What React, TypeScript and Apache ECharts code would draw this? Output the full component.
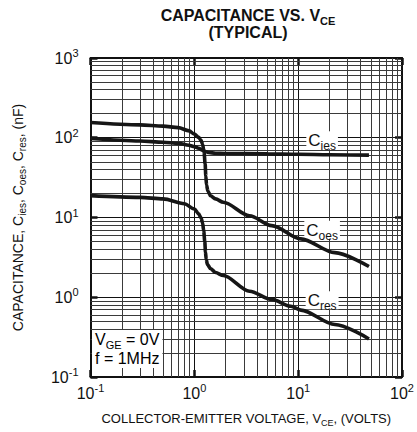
import React, { useEffect, useRef } from "react";
import * as echarts from "echarts";

// axis decades and minor multipliers
const xDecades = [0.1, 1, 10, 100];
const yDecades = [0.1, 1, 10, 100, 1000];
const minorSteps = [2, 3, 4, 5, 6, 7, 8, 9];

// C_ies
const ciesV = [0.1, 0.3, 0.5, 0.7, 0.89, 1.0, 1.1, 1.2, 1.3, 1.37, 1.6, 2, 5, 10, 20, 48];
const ciesC = [97.7, 91, 88, 85, 80.5, 77.3, 74, 69.8, 66.7, 65.3, 64, 63.5, 62.8, 62, 61.3, 60.5];

// C_oes
const coesV = [0.1, 0.3, 0.5, 0.7, 0.89, 1.0, 1.1, 1.16, 1.2, 1.24, 1.27, 1.29, 1.31, 1.35, 1.43, 1.6, 1.9, 3.4, 5.56, 10.6, 22.5, 48];
const coesC = [155, 145, 140, 134, 122, 111, 101, 93, 83, 66, 47, 33, 25.6, 21.5, 18.7, 17.1, 15.5, 10.5, 7.9, 5.4, 3.63, 2.43];

// C_res
const cresV = [0.1, 0.3, 0.5, 0.8, 1.0, 1.1, 1.16, 1.2, 1.23, 1.26, 1.28, 1.3, 1.34, 1.43, 1.6, 1.9, 3.4, 5.56, 8.5, 10.6, 22.5, 48];
const cresC = [18.8, 17.9, 17.1, 14.9, 12.8, 11.1, 9.9, 8.6, 6.8, 5.0, 3.7, 2.97, 2.57, 2.29, 2.04, 1.87, 1.19, 0.94, 0.77, 0.69, 0.455, 0.3];

// curve labels: [name(sub), V, C]
const curveLabels: [string, number, number][] = [
  ["ies", 17, 93],
  ["oes", 17, 7.0],
  ["res", 17, 0.915],
];

const FONT = "'Liberation Sans', Arial, Helvetica, sans-serif";

const minorOf = (decades: number[]) => {
  const out: number[] = [];
  for (let i = 0; i < decades.length - 1; i++) {
    for (const m of minorSteps) out.push(+(decades[i] * m).toPrecision(6));
  }
  return out;
};

const supLabel = (v: number) => {
  const e = Math.round(Math.log10(v));
  return `{b|10}{sup|${e}}`;
};

const tickRich = {
  b: { fontSize: 16, fontFamily: FONT, color: "#111" },
  sup: { fontSize: 11, fontFamily: FONT, color: "#111", lineHeight: 11, padding: [0, 0, 10, 0] },
};

const subRich = (size: number, subSize: number, bold = false, lh?: number) => ({
  m: {
    fontSize: size,
    fontFamily: FONT,
    color: "#111",
    fontWeight: bold ? "bold" : "normal",
    ...(lh ? { lineHeight: lh } : {}),
  },
  sub: {
    fontSize: subSize,
    fontFamily: FONT,
    color: "#111",
    fontWeight: bold ? "bold" : "normal",
    lineHeight: subSize,
    padding: [Math.round(subSize * 0.9), 0, 0, 0],
  },
});

const curveSeries = (data: [number, number][]) => ({
  type: "line",
  data,
  showSymbol: false,
  symbol: "none",
  smooth: 0.3,
  smoothMonotone: "x",
  lineStyle: { color: "#161616", width: 3.6 },
  z: 5,
  silent: true,
});

export default function App() {
  const ref = useRef<HTMLDivElement>(null);
  useEffect(() => {
    if (!ref.current) return;
    const chart = echarts.init(ref.current, undefined, { renderer: "svg" });
    const xMinor = minorOf(xDecades);
    const yMinor = minorOf(yDecades);
    const zip = (a: number[], b: number[]) => a.map((v, i) => [v, b[i]] as [number, number]);

    const axisCommon = {
      type: "log",
      logBase: 10,
      axisLine: { show: true, lineStyle: { color: "#111", width: 2 } },
      axisTick: { show: true, inside: true, length: 7, lineStyle: { color: "#111", width: 2.5 } },
      splitLine: { show: false },
      minorTick: { show: false },
    };

    chart.setOption({
      animation: false,
      backgroundColor: "#fff",
      title: {
        text: "{m|CAPACITANCE VS. V}{sub|CE}\n{m|(TYPICAL)}",
        left: 243,
        top: 2,
        textAlign: "center",
        textStyle: { rich: subRich(16, 11, true), lineHeight: 17 },
      },
      grid: { left: 83, right: 13, top: 58, bottom: 53, show: true, backgroundColor: "#fff", borderWidth: 0 },
      xAxis: [
        {
          ...axisCommon,
          min: xDecades[0],
          max: xDecades[xDecades.length - 1],
          position: "bottom",
          splitLine: { show: true, lineStyle: { color: "#111", width: 1 } },
          axisLabel: { formatter: supLabel, rich: tickRich, margin: 8 },
          name: "{m|COLLECTOR-EMITTER VOLTAGE, V}{sub|CE}{m|, (VOLTS)}",
          nameLocation: "middle",
          nameGap: 35,
          nameTextStyle: { rich: subRich(13, 9) },
        },
        {
          ...axisCommon,
          min: xDecades[0],
          max: xDecades[xDecades.length - 1],
          position: "top",
          axisLabel: { show: false },
        },
      ],
      yAxis: [
        {
          ...axisCommon,
          min: yDecades[0],
          max: yDecades[yDecades.length - 1],
          position: "left",
          splitLine: { show: true, lineStyle: { color: "#111", width: 1 } },
          axisLabel: { formatter: supLabel, rich: tickRich, margin: 12 },
          name: "{m|CAPACITANCE, C}{sub|ies}{m|, C}{sub|oes}{m|, C}{sub|res}{m|, (nF)}",
          nameLocation: "middle",
          nameGap: 66,
          nameTextStyle: { rich: subRich(14, 10) },
        },
        {
          ...axisCommon,
          min: yDecades[0],
          max: yDecades[yDecades.length - 1],
          position: "right",
          axisLabel: { show: false },
        },
      ],
      series: [
        {
          type: "line",
          data: [[1, 1]],
          symbol: "none",
          lineStyle: { opacity: 0 },
          silent: true,
          z: 1,
          markLine: {
            silent: true,
            symbol: ["none", "none"],
            label: { show: false },
            lineStyle: { color: "#3a3a3a", width: 1, type: "solid" },
            data: [...xMinor.map((v) => ({ xAxis: v })), ...yMinor.map((v) => ({ yAxis: v }))],
          },
          markPoint: {
            silent: true,
            symbol: "rect",
            symbolSize: 0,
            label: {
              show: true,
              position: "inside",
              backgroundColor: "#fff",
              padding: [1, 2, 0, 2],
              rich: subRich(17, 12),
              formatter: (p: any) => `{m|C}{sub|${p.name}}`,
            },
            data: curveLabels.map(([n, x, y]) => ({ name: n, coord: [x, y] })),
          },
        },
        curveSeries(zip(ciesV, ciesC)),
        curveSeries(zip(coesV, coesC)),
        curveSeries(zip(cresV, cresC)),
      ],
      graphic: [
        {
          type: "text",
          left: 92,
          top: 329,
          z: 100,
          style: {
            text: "{m|V}{sub|GE}{m| = 0V}\n{m|f = 1MHz}",
            rich: subRich(16, 11, false, 19),
            backgroundColor: "#fff",
            padding: [0, 3, 0, 3],
            lineHeight: 19,
          },
        },
      ],
    });
    return () => chart.dispose();
  }, []);
  return <div ref={ref} style={{ width: 417, height: 432, position: "absolute", left: 0, top: 0 }} />;
}
